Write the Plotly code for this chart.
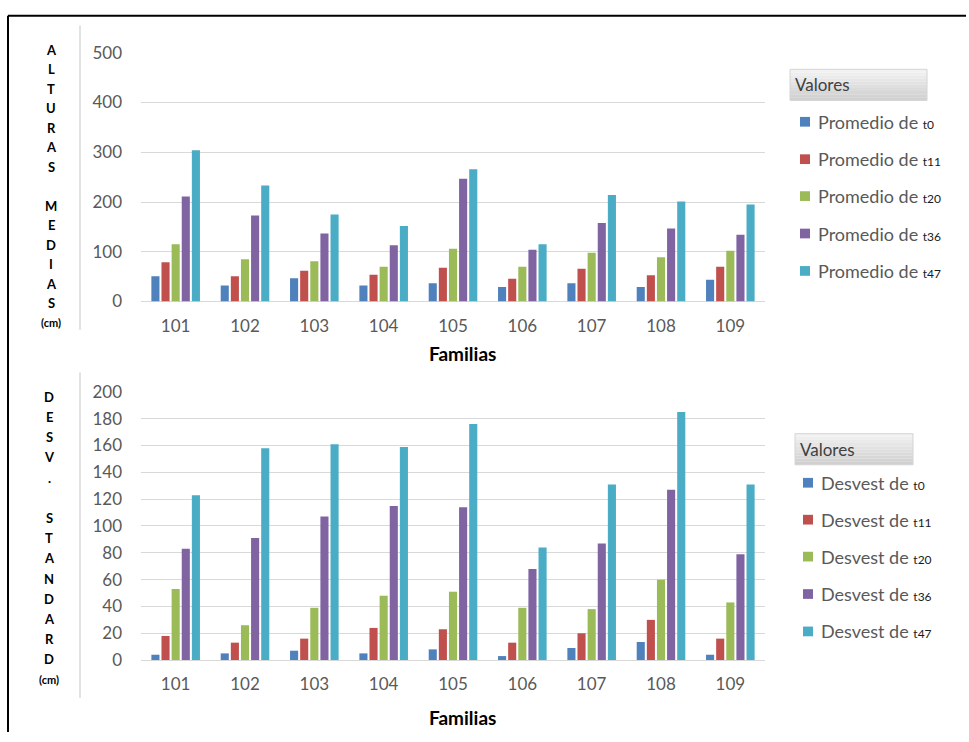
import plotly.graph_objects as go

# ---- data -------------------------------------------------------------
familias = ["101", "102", "103", "104", "105", "106", "107", "108", "109"]
tiempos = ["t0", "t11", "t20", "t36", "t47"]

prom_t0 = [51, 32, 47, 32, 37, 29, 37, 29, 44]
prom_t11 = [79, 51, 62, 54, 68, 46, 66, 53, 70]
prom_t20 = [115, 85, 81, 70, 106, 70, 98, 89, 102]
prom_t36 = [211, 173, 137, 113, 247, 104, 158, 147, 134]
prom_t47 = [304, 233, 175, 152, 266, 115, 214, 201, 195]

desv_t0 = [4, 5, 7, 5, 8, 3, 9, 13.5, 4]
desv_t11 = [18, 13, 16, 24, 23, 13, 20, 30, 16]
desv_t20 = [53, 26, 39, 48, 51, 39, 38, 60, 43]
desv_t36 = [83, 91, 107, 115, 114, 68, 87, 127, 79]
desv_t47 = [123, 158, 161, 159, 176, 84, 131, 185, 131]

promedios = [prom_t0, prom_t11, prom_t20, prom_t36, prom_t47]
desvests = [desv_t0, desv_t11, desv_t20, desv_t36, desv_t47]

colores = ["#4F81BD", "#C0504D", "#9BBB59", "#8064A2", "#4BACC6"]

W, H = 969, 742
FONT = "Lato"
GRAY_TXT = "#595959"
GRID = "#D9D9D9"


def px(x):
    return x / W


def py(y):
    return 1 - y / H


fig = go.Figure()

for t, vals, c in zip(tiempos, promedios, colores):
    fig.add_trace(go.Bar(x=familias, y=vals, name="Promedio de " + t,
                         marker=dict(color=c, line=dict(width=0)),
                         xaxis="x", yaxis="y", showlegend=False))
for t, vals, c in zip(tiempos, desvests, colores):
    fig.add_trace(go.Bar(x=familias, y=vals, name="Desvest de " + t,
                         marker=dict(color=c, line=dict(width=0)),
                         xaxis="x2", yaxis="y2", showlegend=False))

tickfont = dict(family=FONT, size=17, color=GRAY_TXT)
xcommon = dict(type="category", showgrid=False, showline=False, ticks="",
               tickfont=tickfont, ticklabelstandoff=12, fixedrange=True)
ycommon = dict(showgrid=True, gridcolor=GRID, gridwidth=1, zeroline=True,
               zerolinecolor=GRID, zerolinewidth=1, showline=False, ticks="",
               tickfont=tickfont, ticklabelstandoff=18, fixedrange=True)

title_font = dict(family=FONT, size=19, color="#000000", weight="bold")

fig.update_layout(
    width=W, height=H,
    margin=dict(l=0, r=0, t=0, b=0),
    paper_bgcolor="white", plot_bgcolor="white",
    barmode="group", bargap=0.27, bargroupgap=0.2,
    xaxis=dict(domain=[px(141), px(765)], anchor="y", **xcommon),
    yaxis=dict(domain=[py(299), py(43)], anchor="x", range=[0, 500],
               dtick=100, **ycommon),
    xaxis2=dict(domain=[px(141), px(765)], anchor="y2", **xcommon),
    yaxis2=dict(domain=[py(668), py(392)], anchor="x2", range=[0, 200],
                dtick=20, **ycommon),
)

annotations = []
shapes = []

# axis titles
for yc in (352, 727):
    annotations.append(dict(text="Familias", x=px(462), y=py(yc), xref="paper",
                            yref="paper", showarrow=False, font=title_font,
                            xanchor="center", yanchor="middle"))

# stacked vertical labels on the left
letras_sup = list("ALTURAS") + [""] + list("MEDIAS") + ["(cm)"]
letras_inf = list("DESV.") + [""] + list("STANDARD") + ["(cm)"]
for letras, y0, y1, xc in ((letras_sup, 40, 321, 51), (letras_inf, 397, 688, 49)):
    step = (y1 - y0) / (len(letras) - 1)
    for i, ch in enumerate(letras):
        if not ch:
            continue
        size = 11 if ch == "(cm)" else 13
        annotations.append(dict(text=ch, x=px(xc), y=py(y0 + i * step),
                                xref="paper", yref="paper", showarrow=False,
                                font=dict(family=FONT, size=size, color="#000",
                                          weight="bold"),
                                xanchor="center", yanchor="middle"))


def leyenda(prefijo, hx0, hx1, hy0, hy1, sq_x, txt_x, filas_y):
    # header with a soft vertical gradient
    bands = 10
    for b in range(bands):
        g = int(242 - (242 - 208) * b / (bands - 1))
        col = f"rgb({g},{g},{g})"
        ya = hy0 + (hy1 - hy0) * b / bands
        yb = hy0 + (hy1 - hy0) * (b + 1) / bands
        shapes.append(dict(type="rect", xref="paper", yref="paper",
                           x0=px(hx0), x1=px(hx1), y0=py(yb), y1=py(ya),
                           fillcolor=col, line=dict(width=0), layer="below"))
    shapes.append(dict(type="rect", xref="paper", yref="paper",
                       x0=px(hx0), x1=px(hx1), y0=py(hy1), y1=py(hy0),
                       fillcolor="rgba(0,0,0,0)",
                       line=dict(width=1, color="#D4D4D4")))
    annotations.append(dict(text="Valores", x=px(hx0 + 3), y=py((hy0 + hy1) / 2),
                            xref="paper", yref="paper", showarrow=False,
                            xanchor="left", yanchor="middle",
                            font=dict(family=FONT, size=17, color="#404040")))
    for t, c, yc in zip(tiempos, colores, filas_y):
        shapes.append(dict(type="rect", xref="paper", yref="paper",
                           x0=px(sq_x), x1=px(sq_x + 10), y0=py(yc + 5),
                           y1=py(yc - 5), fillcolor=c, line=dict(width=0)))
        annotations.append(dict(
            text=f"{prefijo} de <span style='font-size:12px;color:#1a1a1a'>{t}</span>",
            x=px(txt_x), y=py(yc), xref="paper", yref="paper",
            showarrow=False, xanchor="left", yanchor="middle",
            font=dict(family=FONT, size=18, color=GRAY_TXT)))


leyenda("Promedio", 790, 927, 60, 92, 800, 816, [114, 152.5, 190.5, 229, 267.5])
leyenda("Desvest", 795, 913, 435, 467, 803, 819, [485.5, 523.5, 561.5, 600, 638.5])

# frame lines
shapes.append(dict(type="line", xref="paper", yref="paper", x0=px(8), x1=px(8),
                   y0=py(5), y1=py(742), line=dict(color="#000", width=2)))
shapes.append(dict(type="line", xref="paper", yref="paper", x0=px(8), x1=px(966),
                   y0=py(5), y1=py(5), line=dict(color="#000", width=2)))
for ya, yb in ((15, 328), (372, 707)):
    shapes.append(dict(type="line", xref="paper", yref="paper", x0=px(80),
                       x1=px(80), y0=py(ya), y1=py(yb),
                       line=dict(color="#D9D9D9", width=1.5)))

fig.update_layout(annotations=annotations, shapes=shapes)

fig.write_html("out.html")
